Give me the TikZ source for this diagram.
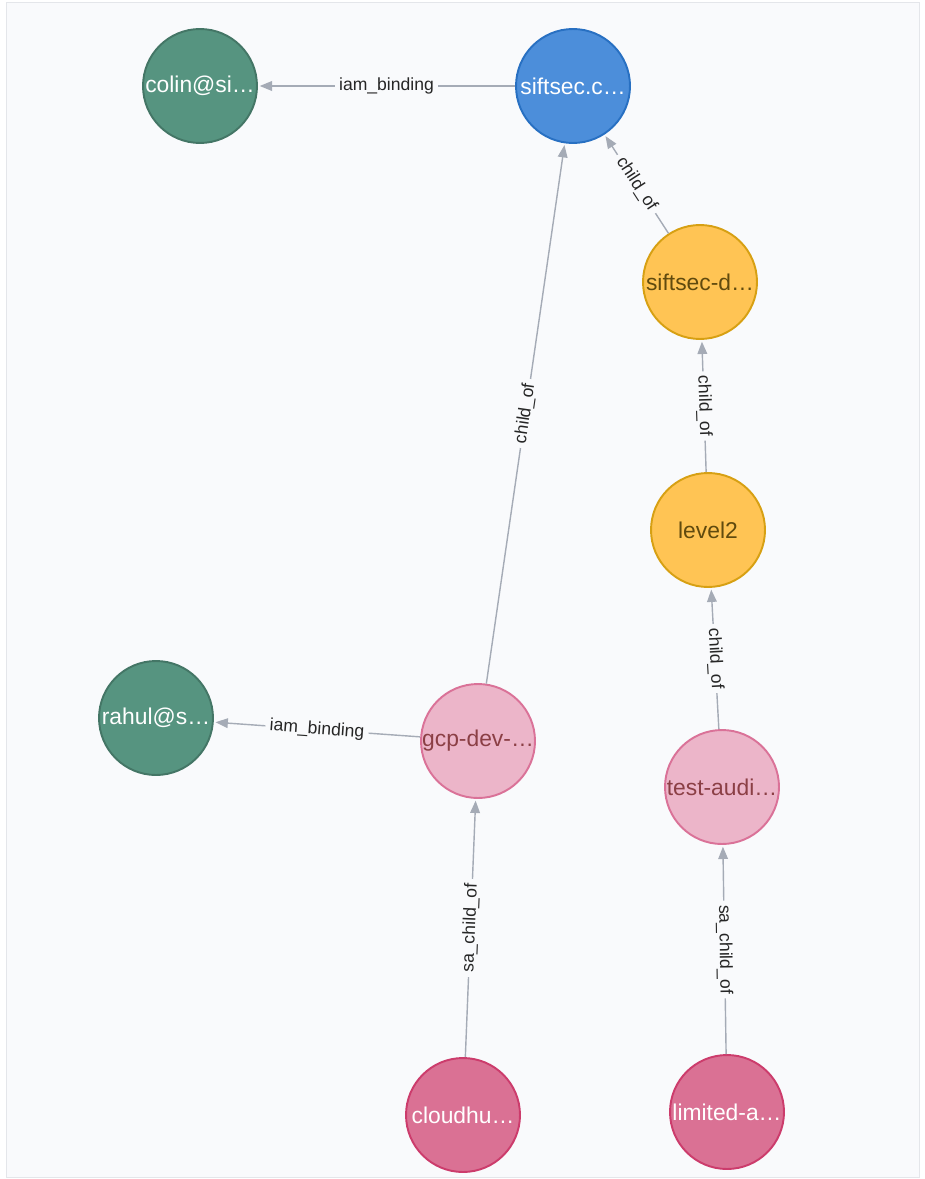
\documentclass[tikz,border=0pt]{standalone}
\usepackage{fontspec}
\setmainfont{Liberation Sans}
\usetikzlibrary{arrows.meta}
\definecolor{bg}{HTML}{F9FAFC}
\definecolor{frame}{HTML}{E4E6EA}
\definecolor{relgray}{HTML}{A5ABB6}
\definecolor{usrfill}{HTML}{569480}
\definecolor{usrdraw}{HTML}{447666}
\definecolor{orgfill}{HTML}{4C8EDA}
\definecolor{orgdraw}{HTML}{2870C2}
\definecolor{fldfill}{HTML}{FFC454}
\definecolor{flddraw}{HTML}{D7A013}
\definecolor{fldtext}{HTML}{604A0E}
\definecolor{prjfill}{HTML}{ECB5C9}
\definecolor{prjdraw}{HTML}{DA7298}
\definecolor{prjtext}{HTML}{8B3F45}
\definecolor{safill}{HTML}{DA7194}
\definecolor{sadraw}{HTML}{CC3C6C}
\begin{document}
\begin{tikzpicture}[x=0.02cm,y=-0.02cm,
  gnode/.style={circle,minimum size=2.28cm,inner sep=0pt,line width=1.1pt,font=\fontsize{13}{15}\selectfont},
  user/.style={gnode,fill=usrfill,draw=usrdraw,text=white},
  org/.style={gnode,fill=orgfill,draw=orgdraw,text=white},
  folder/.style={gnode,fill=fldfill,draw=flddraw,text=fldtext},
  project/.style={gnode,fill=prjfill,draw=prjdraw,text=prjtext},
  svcacct/.style={gnode,fill=safill,draw=sadraw,text=white},
  rel/.style={draw=relgray,line width=0.8pt,shorten >=1pt,-{Triangle[length=7pt,width=5.5pt]}},
  lbl/.style={sloped,fill=bg,inner sep=2.5pt,font=\fontsize{10}{12}\selectfont,text=black!85}]
\useasboundingbox(0,0)rectangle(924,1179);
\draw[frame,fill=bg](6,2)rectangle(919,1177);
%nodes
\node[user](colin)at(200,86){colin@si…};
\node[org](sift)at(573,86){siftsec.c…};
\node[folder](siftd)at(700,282){siftsec-d…};
\node[folder](lvl)at(708,530){level2};
\node[user](rahul)at(156,718){rahul@s…};
\node[project](gcp)at(478,741){gcp-dev-…};
\node[project](audit)at(722,787){test-audi…};
\node[svcacct](cloud)at(463,1115){cloudhu…};
\node[svcacct](limit)at(727,1112){limited-a…};
%relationships
\draw[rel](sift)--node[lbl]{iam\_binding}(colin);
\draw[rel](gcp)--node[lbl]{iam\_binding}(rahul);
\draw[rel](gcp)--node[lbl]{child\_of}(sift);
\draw[rel](siftd)--node[lbl]{child\_of}(sift);
\draw[rel](lvl)--node[lbl]{child\_of}(siftd);
\draw[rel](audit)--node[lbl]{child\_of}(lvl);
\draw[rel](cloud)--node[lbl]{sa\_child\_of}(gcp);
\draw[rel](limit)--node[lbl]{sa\_child\_of}(audit);
\end{tikzpicture}
\end{document}
